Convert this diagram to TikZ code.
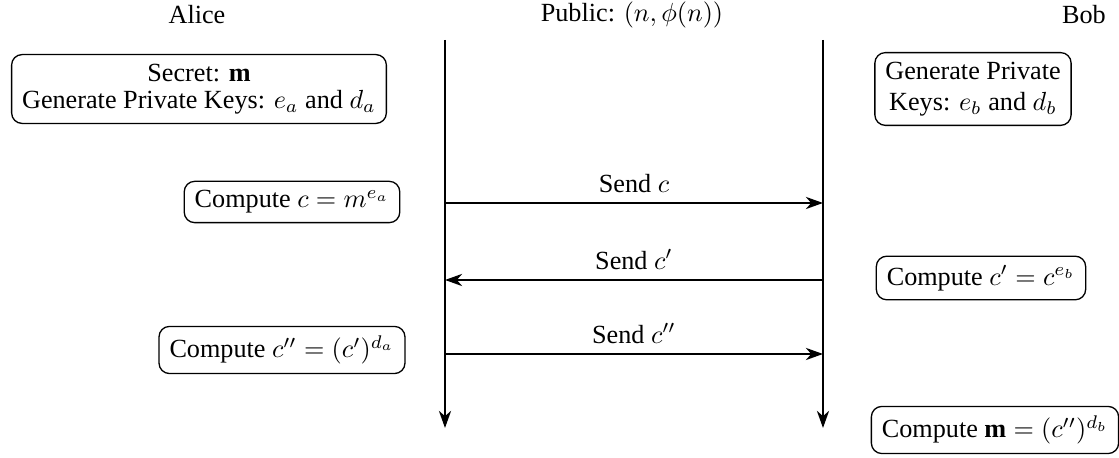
\documentclass[tikz,border=0pt]{standalone}
\usepackage[no-math]{fontspec}
\setmainfont{Liberation Serif}
\usetikzlibrary{arrows.meta}
\begin{document}
\begin{tikzpicture}[x=0.3817pt, y=-0.3817pt,
  box/.style={draw, rounded corners=4pt, line width=0.5pt, align=center,
              inner xsep=4pt, inner ysep=3.5pt},
  party/.style={inner sep=0pt},
  tip/.style={-{Stealth[length=6.5pt, width=4.6pt, inset=2pt]}},
  lifeline/.style={line width=1pt, tip},
  msg/.style={line width=1pt, tip},
  msglabel/.style={midway, above, inner sep=3.5pt}]
\useasboundingbox (0,0) rectangle (1119,458);

% parties
\node[party] (alice)  at (197,15) {Alice};
\node[party] (public) at (632,15) {Public: $(n,\phi(n))$};
\node[party] (bob)    at (1084,15) {Bob};

% lifelines
\coordinate (atop) at (445,40);
\coordinate (abot) at (445,428);
\coordinate (btop) at (823,40);
\coordinate (bbot) at (823,428);
\draw[lifeline] (atop) -- (abot);
\draw[lifeline] (btop) -- (bbot);

% local computations
\node[box] (akeys) at (199,89)
  {Secret: \textbf{m}\\[-1.5pt] Generate Private Keys: $e_a$ and $d_a$};
\node[box] (bkeys) at (973,89)
  {Generate Private\\ Keys: $e_b$ and $d_b$};
\node[box] (ac)   at (292,202) {Compute $c = m^{e_a}$};
\node[box] (bc)   at (981,278) {Compute $c' = c^{e_b}$};
\node[box] (acc)  at (282,350) {Compute $c'' = (c')^{d_a}$};
\node[box] (bm)   at (995,430) {Compute $\mbox{\textbf{m}} = (c'')^{d_b}$};

% messages
\coordinate (a1) at (445,203); \coordinate (b1) at (823,203);
\coordinate (a2) at (445,280); \coordinate (b2) at (823,280);
\coordinate (a3) at (445,354); \coordinate (b3) at (823,354);
\draw[msg] (a1) -- node[msglabel] {Send $c$} (b1);
\draw[msg] (b2) -- node[msglabel] {Send $c'$} (a2);
\draw[msg] (a3) -- node[msglabel] {Send $c''$} (b3);
\end{tikzpicture}
\end{document}
